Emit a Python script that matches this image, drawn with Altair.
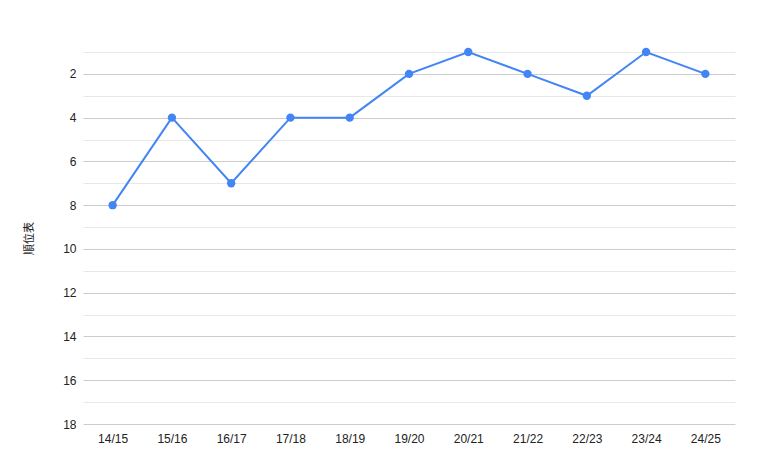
import altair as alt
import pandas as pd

seasons = ["14/15", "15/16", "16/17", "17/18", "18/19", "19/20", "20/21", "21/22", "22/23", "23/24", "24/25"]
ranks = [8, 4, 7, 4, 4, 2, 1, 2, 3, 1, 2]
y_ticks = list(range(1, 19))

df = pd.DataFrame({"season": seasons, "rank": ranks})

grid_color = {"condition": {"test": "datum.value % 2 === 0", "value": "#cccccc"}, "value": "#e8e8e8"}

base = alt.Chart(df).encode(
    x=alt.X("season:N", sort=seasons, title=None,
            scale=alt.Scale(paddingInner=0, paddingOuter=0.5),
            axis=alt.Axis(labelAngle=0, ticks=False, domain=False, labelPadding=9,
                          labelFont="Liberation Sans", labelFontSize=12, labelColor="#222222", grid=False)),
    y=alt.Y("rank:Q", title="順位表",
            scale=alt.Scale(domain=[1, 18], reverse=True, nice=False, zero=False),
            axis=alt.Axis(values=y_ticks, labelExpr="datum.value % 2 === 0 ? datum.label : ''",
                          ticks=False, domain=False, labelPadding=7,
                          labelFont="Liberation Sans", labelFontSize=12, labelColor="#222222",
                          gridColor=grid_color, gridWidth=1,
                          titleFont="Noto Sans CJK JP", titleFontSize=11, titleFontWeight="normal",
                          titleColor="#222222", titlePadding=28)),
)

line = base.mark_line(color="#4285F4", strokeWidth=2)
pts = base.mark_circle(color="#4285F4", size=70, opacity=1)

chart = (line + pts).properties(
    width=652, height=372,
    padding={"left": 75, "top": 44, "right": 15, "bottom": 30},
    autosize=alt.AutoSizeParams(type="none"),
).configure(background="white").configure_view(stroke=None, strokeWidth=0)

chart.save("out.html", embed_options={"renderer": "svg", "actions": False})
